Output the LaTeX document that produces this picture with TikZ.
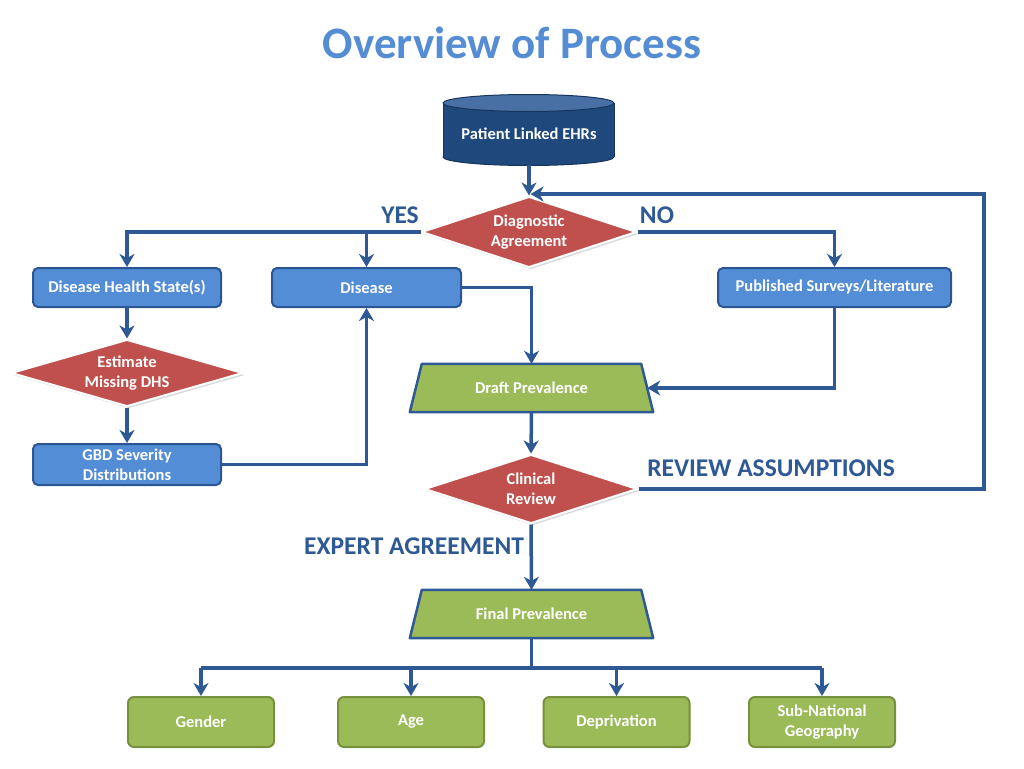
\documentclass[tikz,border=0pt]{standalone}
\usepackage{fontspec}
\setmainfont{Carlito}
\usetikzlibrary{shapes.geometric,arrows.meta,shadows,backgrounds}
\definecolor{titleblue}{RGB}{84,141,212}
\definecolor{lineblue}{RGB}{46,89,148}
\definecolor{boxblue}{RGB}{83,141,213}
\definecolor{boxborder}{RGB}{44,86,146}
\definecolor{cyldark}{RGB}{31,73,125}
\definecolor{cyltop}{RGB}{72,112,165}
\definecolor{cylline}{RGB}{22,52,92}
\definecolor{dred}{RGB}{192,80,77}
\definecolor{lgreen}{RGB}{155,187,89}
\definecolor{dgreen}{RGB}{118,146,60}
\tikzset{
 txt/.style={font=\fontsize{16.5}{20}\selectfont\bfseries, text=white, align=center},
 bluebox/.style={txt, draw=boxborder, fill=boxblue, line width=2pt, rounded corners=5pt, minimum height=39pt, inner sep=0pt},
 decision/.style={txt, diamond, aspect=3, fill=dred, draw=white, line width=2pt, inner sep=0pt, drop shadow={opacity=0.3,shadow xshift=2pt,shadow yshift=-2pt}},
 prevbox/.style={txt, rectangle, minimum width=243pt, minimum height=48pt, inner sep=0pt},
 trapfill/.style={fill=lgreen, draw=lineblue, line width=2.5pt, line join=round},
 greenbox/.style={txt, draw=dgreen, fill=lgreen, line width=2pt, rounded corners=6pt, minimum width=146pt, minimum height=50pt, inner sep=0pt},
 conn/.style={draw=lineblue, line width=3.5pt},
 arr/.style={conn, -{Stealth[length=13pt,width=15pt,inset=4pt]}},
 lbl/.style={font=\fontsize{25.5}{30}\selectfont\bfseries, text=lineblue},
}
\begin{document}
\begin{tikzpicture}[x=1pt,y=-1pt]
\useasboundingbox (0,0) rectangle (1024,768);
% title
\node[font=\fontsize{45}{54}\selectfont\bfseries, text=titleblue] (title) at (512,43) {Overview of Process};
% cylinder
\filldraw[fill=cyldark, draw=cylline, line width=1pt] (528.5,157) ellipse [x radius=85.5pt, y radius=8.5pt];
\fill[cyldark] (443,103) rectangle (614,157);
\draw[cylline, line width=1pt] (443,103) -- (443,157) (614,103) -- (614,157);
\filldraw[fill=cyltop, draw=cylline, line width=1pt] (528.5,103) ellipse [x radius=85.5pt, y radius=8.5pt];
\node[txt, minimum width=171pt, minimum height=62pt, inner sep=0pt] (ehr) at (529,134) {Patient Linked EHRs};
% decisions
\node[decision, minimum width=215pt, minimum height=71pt] (diag) at (529,232) {Diagnostic\\Agreement};
\node[decision, minimum width=232pt, minimum height=67pt] (est) at (127,373) {Estimate\\Missing DHS};
\node[decision, minimum width=213pt, minimum height=69pt] (clin) at (531,489) {Clinical\\Review};
% blue boxes
\node[bluebox, minimum width=188pt] (dhs) at (127,287.5) {Disease Health State(s)};
\node[bluebox, minimum width=189pt] (dis) at (366.5,287.5) {Disease};
\node[bluebox, minimum width=233pt] (pub) at (834.5,287.5) {Published Surveys/Literature};
\node[bluebox, minimum width=188pt, minimum height=41pt] (gbd) at (127,464.5) {GBD Severity\\Distributions};
% prevalence
\node[prevbox] (draft) at (531.5,388) {Draft Prevalence};
\node[prevbox] (final) at (531.5,614) {Final Prevalence};
\begin{scope}[on background layer]
\filldraw[trapfill] ([xshift=12pt]draft.north west) -- ([xshift=-12pt]draft.north east) -- (draft.south east) -- (draft.south west) -- cycle;
\filldraw[trapfill] ([xshift=12pt]final.north west) -- ([xshift=-12pt]final.north east) -- (final.south east) -- (final.south west) -- cycle;
\end{scope}
% green boxes
\node[greenbox] (gender) at (201,722) {Gender};
\node[greenbox] (age) at (411,722) {Age};
\node[greenbox] (dep) at (616.5,722) {Deprivation};
\node[greenbox] (geo) at (822,722) {Sub-National\\Geography};
% labels
\node[lbl] (yes) at (400,215) {YES};
\node[lbl] (no) at (657,215) {NO};
\node[lbl] (rev) at (771,468) {REVIEW ASSUMPTIONS};
\node[lbl] (exp) at (414,546) {EXPERT AGREEMENT};
% coordinates
\coordinate (join) at (ehr.south |- 0,194);
\coordinate (yb) at (dis.north |- diag.west);
\coordinate (fb) at (531.5,668);
\coordinate (fg) at (gender.north |- fb);
\coordinate (fa) at (age.north |- fb);
\coordinate (fd) at (dep.north |- fb);
\coordinate (fs) at (geo.north |- fb);
% connectors
\draw[arr] (ehr.south) -- (diag.north);
\draw[arr] (diag.west) -| (dhs.north);
\draw[arr] (yb) -- (dis.north);
\draw[arr] (diag.east) -| (pub.north);
\draw[arr] (dhs.south) -- (est.north);
\draw[arr] (est.south) -- (gbd.north);
\draw[arr] (gbd.east) -| (dis.south);
\draw[arr] (dis.east) -| (draft.north);
\draw[arr] (pub.south) |- ([xshift=-6pt]draft.east);
\draw[arr] (draft.south) -- (clin.north);
\draw[arr, shorten >=1.5pt] (clin.east) -- (984,489) |- (join);
\draw[arr] (clin.south) -- (final.north);
\draw[conn] (final.south) -- (fb);
\draw[conn] (fg) -- (fs);
\draw[arr] (fg) -- (gender.north);
\draw[arr] (fa) -- (age.north);
\draw[arr] (fd) -- (dep.north);
\draw[arr] (fs) -- (geo.north);
\end{tikzpicture}
\end{document}
